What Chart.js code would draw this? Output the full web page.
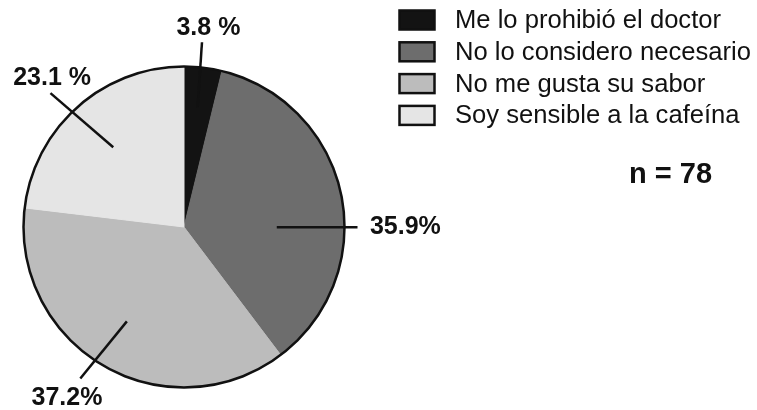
<!DOCTYPE html>
<html>
<head>
<meta charset="utf-8">
<style>
  html, body { margin: 0; padding: 0; background: #ffffff; }
  #wrap { width: 757px; height: 410px; }
</style>
<script src="https://cdn.jsdelivr.net/npm/chart.js@4/dist/chart.umd.min.js"></script>
</head>
<body>
<div id="wrap"><canvas id="pie" width="757" height="410"></canvas></div>
<script>
// Reasons for not drinking coffee (percent of respondents)
const categories = [
  'Me lo prohibió el doctor',
  'No lo considero necesario',
  'No me gusta su sabor',
  'Soy sensible a la cafeína'
];
const percentages = [3.8, 35.9, 37.2, 23.1];
const percentSuffix = [' %', '%', '%', ' %'];
const sliceColors = ['#131313', '#6d6d6d', '#bcbcbc', '#e5e5e5'];
const sampleNote = 'n = 78';

// Callout geometry in units of the pie radius, relative to the pie centre:
// inner end of the leader line, outer end, and label anchor (centre, baseline).
const callouts = [
  { inner: [0.085, -0.745], outer: [0.112, -1.151], label: [0.152, -1.197] },
  { inner: [0.578, 0.002], outer: [1.081, 0.002], label: [1.379, 0.045] },
  { inner: [-0.356, 0.588], outer: [-0.646, 0.944], label: [-0.729, 1.108] },
  { inner: [-0.441, -0.497], outer: [-0.832, -0.834], label: [-0.822, -0.882] }
];

const INK = '#111111';
const FONT = '"Liberation Sans", Arial, sans-serif';

// Outline around the whole pie (no seams between slices)
const outlinePlugin = {
  id: 'outline',
  afterDatasetsDraw(chart) {
    const arc = chart.getDatasetMeta(0).data[0];
    if (!arc) return;
    const ctx = chart.ctx;
    ctx.save();
    ctx.beginPath();
    ctx.arc(arc.x, arc.y, arc.outerRadius, 0, Math.PI * 2);
    ctx.lineWidth = 2.5;
    ctx.strokeStyle = INK;
    ctx.stroke();
    ctx.restore();
  }
};

// Percentage labels with leader lines
const calloutPlugin = {
  id: 'callouts',
  afterDraw(chart) {
    const arc = chart.getDatasetMeta(0).data[0];
    if (!arc) return;
    const cx = arc.x, cy = arc.y, r = arc.outerRadius;
    const ctx = chart.ctx;
    ctx.save();
    ctx.strokeStyle = INK;
    ctx.fillStyle = INK;
    ctx.lineWidth = 2.5;
    ctx.lineCap = 'butt';
    ctx.font = 'bold 25px ' + FONT;
    ctx.textAlign = 'center';
    ctx.textBaseline = 'alphabetic';
    callouts.forEach((c, i) => {
      ctx.beginPath();
      ctx.moveTo(cx + c.inner[0] * r, cy + c.inner[1] * r);
      ctx.lineTo(cx + c.outer[0] * r, cy + c.outer[1] * r);
      ctx.stroke();
      const text = chart.data.datasets[0].data[i].toFixed(1) + percentSuffix[i];
      ctx.fillText(text, cx + c.label[0] * r, cy + c.label[1] * r);
    });
    ctx.restore();
  }
};

// Legend drawn at the top right, plus the sample size note
const legendPlugin = {
  id: 'sideLegend',
  afterDraw(chart) {
    const ctx = chart.ctx;
    const ds = chart.data.datasets[0];
    ctx.save();
    ctx.font = '25.6px ' + FONT;
    ctx.textAlign = 'left';
    ctx.textBaseline = 'alphabetic';
    chart.data.labels.forEach((label, i) => {
      const top = 10.5 + i * 31.8;
      ctx.fillStyle = ds.backgroundColor[i];
      ctx.fillRect(399.5, top, 35, 19);
      ctx.lineWidth = 2.5;
      ctx.strokeStyle = INK;
      ctx.strokeRect(399.5, top, 35, 19);
      ctx.fillStyle = INK;
      ctx.fillText(label, 455, 28.3 + i * 31.7);
    });
    ctx.font = 'bold 29px ' + FONT;
    ctx.fillText(sampleNote, 629, 183);
    ctx.restore();
  }
};

new Chart(document.getElementById('pie'), {
  type: 'pie',
  data: {
    labels: categories,
    datasets: [{
      data: percentages,
      backgroundColor: sliceColors,
      borderColor: sliceColors,
      borderWidth: 1
    }]
  },
  options: {
    responsive: false,
    animation: false,
    devicePixelRatio: 1,
    layout: { padding: { left: 23, right: 412, top: 66, bottom: 22 } },
    plugins: {
      legend: { display: false },
      tooltip: { enabled: false }
    }
  },
  plugins: [outlinePlugin, calloutPlugin, legendPlugin]
});
</script>
</body>
</html>
